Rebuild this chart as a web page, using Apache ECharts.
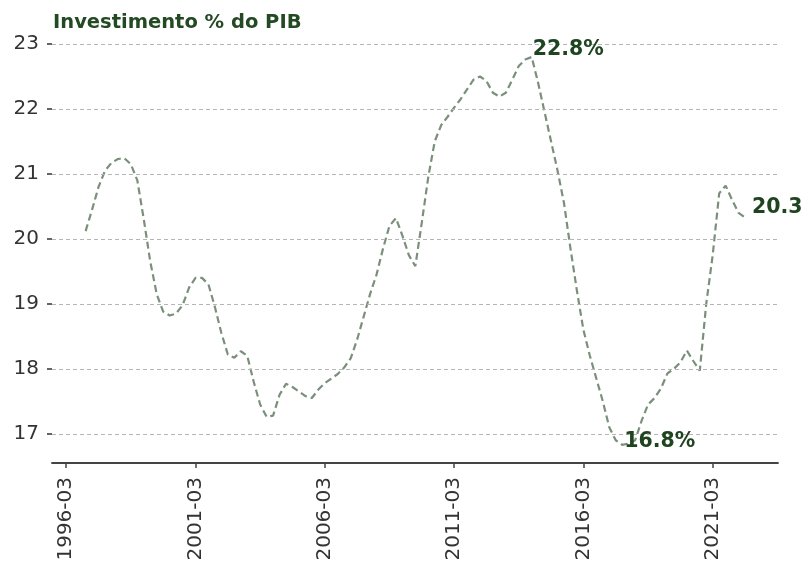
<!DOCTYPE html>
<html><head><meta charset="utf-8">
<script src="https://cdn.jsdelivr.net/npm/echarts@6/dist/echarts.min.js"></script>
<style>html,body{margin:0;padding:0;background:#fff}#c{width:808px;height:562px}</style>
</head><body><div id="c"></div>
<script>
const titleText = 'Investimento % do PIB';
// quarterly index positions (0 = 1996-03)
const tickPositions = [0, 20, 40, 60, 80, 100];
const tickLabels = ['1996-03', '2001-03', '2006-03', '2011-03', '2016-03', '2021-03'];
const yTicks = [17, 18, 19, 20, 21, 22, 23];
const firstIndex = 3; // first value is 1996-12
const values = [
  20.12, 20.45, 20.8, 21.05, 21.17, 21.23, 21.24, 21.15, 20.9, 20.3,
  19.65, 19.15, 18.88, 18.82, 18.85, 18.98, 19.25, 19.4, 19.4, 19.3,
  18.95, 18.55, 18.22, 18.17, 18.27, 18.2, 17.8, 17.45, 17.26, 17.28,
  17.6, 17.77, 17.72, 17.65, 17.58, 17.55, 17.68, 17.78, 17.85, 17.92,
  18.02, 18.16, 18.45, 18.8, 19.15, 19.45, 19.85, 20.2, 20.32, 20.05,
  19.75, 19.58, 20.25, 20.95, 21.5, 21.75, 21.88, 22.02, 22.15, 22.3,
  22.45, 22.5, 22.43, 22.25, 22.19, 22.25, 22.45, 22.66, 22.76, 22.8,
  22.4, 21.95, 21.5, 21.05, 20.55, 19.85, 19.2, 18.6, 18.2, 17.85,
  17.5, 17.1, 16.9, 16.83, 16.85, 16.9, 17.2, 17.45, 17.55, 17.7,
  17.93, 18.0, 18.1, 18.28, 18.12, 17.97, 19.0, 19.75, 20.7, 20.82,
  20.6, 20.4, 20.33
];

const seriesData = values.map((v, i) => [firstIndex + i, v]);
let maxI = 0, minI = 0;
values.forEach((v, i) => { if (v > values[maxI]) maxI = i; if (v < values[minI]) minI = i; });
const lastI = values.length - 1;

const font = 'DejaVu Sans';
const annColor = '#1f4420';
const annLabel = (text, pos) => ({
  show: true, formatter: text, position: pos, align: 'left', verticalAlign: 'bottom',
  fontFamily: font, fontWeight: 'bold', fontSize: 20.5, color: annColor
});

const chart = echarts.init(document.getElementById('c'), null, {renderer: 'canvas'});
chart.setOption({
  animation: false,
  backgroundColor: '#fff',
  title: {
    text: titleText, left: 53, top: 13, padding: 0,
    textStyle: {fontFamily: font, fontWeight: 'bold', fontSize: 19.5, color: '#234a23'}
  },
  grid: {left: 52, right: 30, top: 37.5, bottom: 99, containLabel: false, outerBoundsMode: 'none'},
  xAxis: {
    type: 'value', min: -2.2, max: 110.1,
    axisLine: {show: true, onZero: false, lineStyle: {color: '#444', width: 1.8}},
    axisTick: {show: true, length: 5, customValues: tickPositions, lineStyle: {color: '#444', width: 1.5}},
    axisLabel: {
      customValues: tickPositions, rotate: 90, margin: 14,
      formatter: v => tickLabels[tickPositions.indexOf(v)] || '',
      fontFamily: font, fontSize: 20, color: '#333'
    },
    splitLine: {show: false}
  },
  yAxis: {
    type: 'value', min: 16.55, max: 23.1,
    axisLine: {show: true, onZero: false, lineStyle: {color: 'rgba(0,0,0,0)', width: 0}},
    axisTick: {show: true, length: 5, customValues: yTicks, lineStyle: {color: '#333', width: 1.5}},
    axisLabel: {customValues: yTicks, margin: 13, fontFamily: font, fontSize: 20, color: '#333'},
    splitLine: {show: false}
  },
  series: [{
    type: 'line',
    data: seriesData,
    showSymbol: false,
    symbol: 'none',
    lineStyle: {color: '#7a907b', width: 2.2, type: [7, 4]},
    z: 3,
    markLine: {
      silent: true, symbol: ['none', 'none'], label: {show: false},
      lineStyle: {color: '#b5b5b5', width: 1, type: [4, 3]},
      emphasis: {disabled: true},
      data: yTicks.map(v => ({yAxis: v}))
    },
    markPoint: {
      symbol: 'circle', symbolSize: 0, silent: true,
      data: [
        {coord: [firstIndex + maxI, values[maxI]], label: annLabel(values[maxI].toFixed(1) + '%', [1, 3])},
        {coord: [firstIndex + minI, values[minI]], label: annLabel(values[minI].toFixed(1) + '%', [2, 7])},
        {coord: [firstIndex + lastI, values[lastI]], label: annLabel(values[lastI].toFixed(1), [7, 1])}
      ]
    }
  }]
});
</script></body></html>
